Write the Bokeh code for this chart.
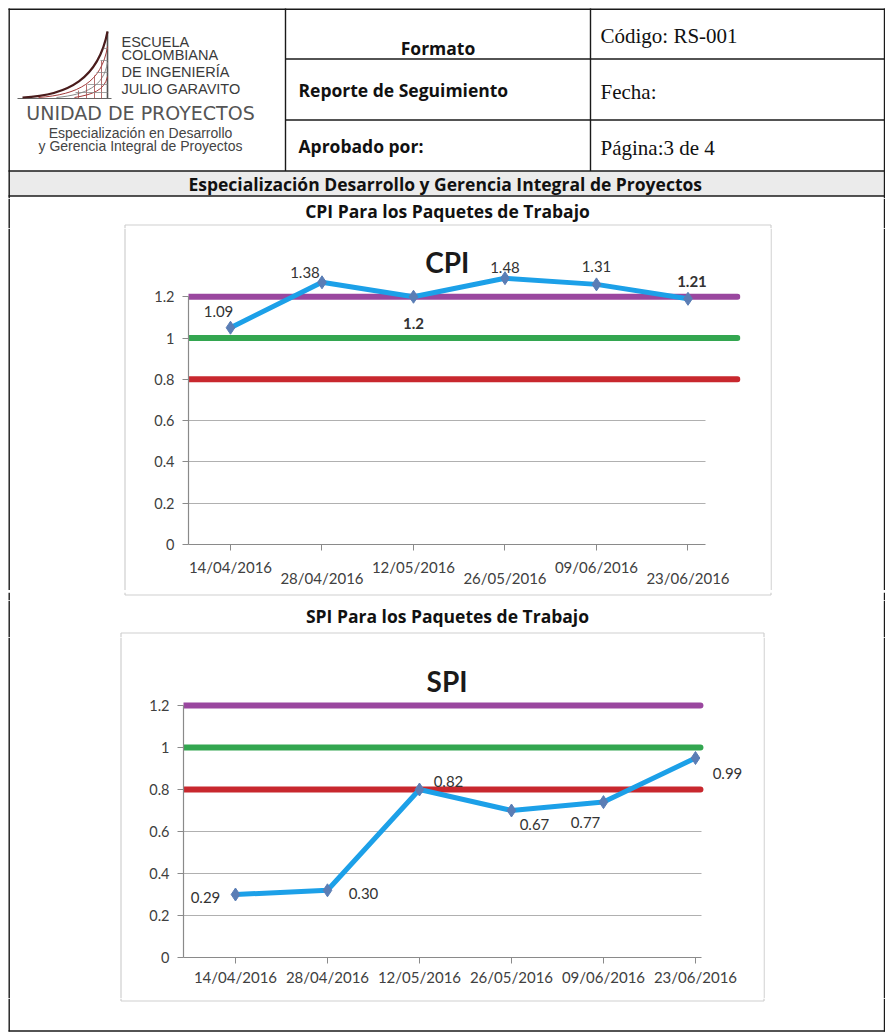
from bokeh.plotting import figure
from bokeh.models import (Range1d, FixedTicker, NumeralTickFormatter, ColumnDataSource,
                          LinearAxis, Grid, Plot)
from bokeh.layouts import column, row
from bokeh.core.properties import value
from bokeh.embed import file_html
from bokeh.resources import INLINE

# ---------------- data ----------------
dates = ["14/04/2016", "28/04/2016", "12/05/2016", "26/05/2016", "09/06/2016", "23/06/2016"]
cpi_values = [1.05, 1.27, 1.20, 1.29, 1.26, 1.19]
cpi_labels = ["1.09", "1.38", "1.2", "1.48", "1.31", "1.21"]
spi_values = [0.30, 0.32, 0.80, 0.70, 0.74, 0.95]
spi_labels = ["0.29", "0.30", "0.82", "0.67", "0.77", "0.99"]
thresholds = [1.2, 1.0, 0.8]
y_ticks = [0, 0.2, 0.4, 0.6, 0.8, 1.0, 1.2]

# ---------------- styles ----------------
threshold_colors = ["#9a479f", "#33a650", "#c8282e"]
cpi_label_dx = [-12, -17, 0, 0, 0, 4]
cpi_label_dy = [-16, -10, 27, -11, -18, -17]
cpi_label_style = ["normal", "normal", "bold", "normal", "normal", "bold"]
spi_label_dx = [-30, 36, 29, 23, -18, 32]
spi_label_dy = [3, 3, -8, 14, 20, 15]
spi_label_style = ["normal"] * 6

W = 885
SANS_B = "Open Sans"
SERIF = "Liberation Serif"
CHART_FONT = "Lato"
LINE = "#1a1a1a"
BOX = "#cfcfcf"
LB = 8.7      # x of left document border
RB = 884.0    # x of right document border

NO_ALIGN = {"frame_align": False} if "frame_align" in Plot.properties() else {}


def deco(w, h):
    return figure(width=w, height=h, x_range=Range1d(0, w), y_range=Range1d(h, 0),
                  x_axis_type=None, y_axis_type=None, title=None,
                  output_backend="svg", toolbar_location=None,
                  min_border_left=0, min_border_right=0, min_border_top=0, min_border_bottom=0,
                  outline_line_color=None, background_fill_color="white",
                  border_fill_color="white", **NO_ALIGN)


def rules(f, segs, color=LINE, width=1.4):
    """Draw horizontal / vertical rules of the page frame as thin filled boxes."""
    lefts, rights, tops, bottoms = [], [], [], []
    hw = width / 2.0
    for x0, y0, x1, y1 in segs:
        if x0 == x1:
            lefts.append(x0 - hw); rights.append(x0 + hw)
            tops.append(min(y0, y1)); bottoms.append(max(y0, y1))
        else:
            lefts.append(min(x0, x1)); rights.append(max(x0, x1))
            tops.append(y0 - hw); bottoms.append(y0 + hw)
    f.quad(left=lefts, right=rights, top=tops, bottom=bottoms,
           fill_color=color, line_color=None)


def txt(f, x, y, s, size, font=SANS_B, style="normal", align="left", color="#111111"):
    f.text(x=[x], y=[y], text=[s], text_font=value(font), text_font_size=f"{size}px",
           text_font_style=style, text_align=align, text_baseline="middle", text_color=color)


# ---------------- header ----------------
hdr = deco(W, 198)
hdr.quad(left=[8], right=[884.5], top=[170.5], bottom=[195.5], fill_color="#ebebeb",
         line_color=None)
rules(hdr, [(8, 8.7, 884.7, 8.7), (285, 58.5, 884.7, 58.5), (285, 119.5, 884.7, 119.5),
            (8, 170.5, 884.7, 170.5), (8, 195.5, 884.7, 195.5),
            (LB, 8, LB, 198), (RB, 8, RB, 198), (285, 8, 285, 170.5), (590, 8, 590, 170.5)])

# logo mark
hdr.segment(x0=[107], y0=[31], x1=[107], y1=[98], line_color="#555555", line_width=1.6)
hdr.segment(x0=[17], y0=[98], x1=[111], y1=[98], line_color="#666666", line_width=1.2)
hdr.bezier(x0=[22, 38, 56, 74], y0=[97, 97, 97, 97], x1=[107, 107, 107, 107],
           y1=[31, 46, 62, 76],
           cx0=[68, 78, 86, 92], cy0=[95, 94, 94, 94], cx1=[98, 101, 103, 104],
           cy1=[78, 82, 86, 90],
           line_color=["#4a1c1c", "#a33a3a", "#8a8a8a", "#a33a3a"], line_width=[2.2, 1, 1, 1])
hdr.segment(x0=[78, 86, 94, 101], y0=[98, 98, 98, 98], x1=[78, 86, 94, 101],
            y1=[90, 84, 75, 60], line_color="#a34a4a", line_width=0.8)
hdr.segment(x0=[103, 100, 96, 87, 75], y0=[48, 60, 72, 84, 92], x1=[107] * 5,
            y1=[48, 60, 72, 84, 92], line_color="#8a8a8a", line_width=0.8)

for s, yy in zip(["ESCUELA", "COLOMBIANA", "DE INGENIERÍA", "JULIO GARAVITO"], [41, 54, 71, 88]):
    txt(hdr, 121, yy, s, 14.5, font="Liberation Sans", color="#3a3a3a")
txt(hdr, 140, 112, "UNIDAD DE PROYECTOS", 19, font="DejaVu Sans", align="center",
    color="#555555")
txt(hdr, 140, 132, "Especialización en Desarrollo", 14, font="Liberation Sans",
    align="center", color="#444444")
txt(hdr, 140, 145, "y Gerencia Integral de Proyectos", 14, font="Liberation Sans",
    align="center", color="#444444")

txt(hdr, 437.5, 47, "Formato", 17.5, style="bold", align="center")
txt(hdr, 600, 35, "Código: RS-001", 21, font=SERIF)
txt(hdr, 298, 89, "Reporte de Seguimiento", 17.5, style="bold")
txt(hdr, 600, 91, "Fecha:", 21, font=SERIF)
txt(hdr, 298, 145, "Aprobado por:", 17.5, style="bold")
txt(hdr, 600, 147, "Página:3  de 4", 21, font=SERIF)
txt(hdr, 447, 183, "Especialización  Desarrollo y Gerencia Integral de Proyectos", 17.5,
    style="bold", align="center")


# ---------------- charts ----------------
def chart(w, h, xr, y_end, mb, values, labels, dx, dy, fstyle, title, title_xy,
          axis_end, line_end, stagger):
    xs = list(range(len(dates)))
    p = figure(width=w, height=h, x_range=Range1d(*xr), y_range=Range1d(0, y_end),
               x_axis_type=None, y_axis_type=None, title=None, output_backend="svg",
               toolbar_location=None, min_border_left=mb[0], min_border_right=mb[1],
               min_border_top=mb[2], min_border_bottom=mb[3], outline_line_color=None,
               background_fill_color="white", border_fill_color="white", **NO_ALIGN)
    yticker = FixedTicker(ticks=y_ticks)
    yaxis = LinearAxis(ticker=yticker, formatter=NumeralTickFormatter(format="0.[0]"),
                       bounds=(0, y_ticks[-1]))
    overrides = {i: ("\n" + d if (stagger and i % 2) else d) for i, d in enumerate(dates)}
    xaxis = LinearAxis(ticker=FixedTicker(ticks=xs), bounds=(xr[0], axis_end),
                       major_label_overrides=overrides)
    for ax in (yaxis, xaxis):
        ax.axis_line_color = "#8a8a8a"
        ax.axis_line_width = 1.2
        ax.major_tick_line_color = "#8a8a8a"
        ax.major_tick_in = 0
        ax.major_tick_out = 6
        ax.minor_tick_line_color = None
        ax.major_label_text_font = CHART_FONT
        ax.major_label_text_color = "#404040"
    yaxis.major_label_text_font_size = "14.5px"
    yaxis.major_label_standoff = 8
    xaxis.major_label_text_font_size = "15px"
    if stagger:
        xaxis.major_label_standoff = 7
        xaxis.major_label_text_line_height = 0.65
    else:
        xaxis.major_label_standoff = 4
    p.add_layout(yaxis, "left")
    p.add_layout(xaxis, "below")
    grid = Grid(dimension=1, ticker=yticker, grid_line_color="#b0b0b0", grid_line_width=1)
    if "cross_bounds" in Grid.properties():
        grid.cross_bounds = (xr[0], axis_end)
    p.add_layout(grid)

    n = len(thresholds)
    p.segment(x0=[xr[0]] * n, x1=[line_end] * n, y0=thresholds, y1=thresholds,
              line_color=threshold_colors, line_width=6, line_cap="round")
    src = ColumnDataSource(dict(x=xs, y=values, label=labels, dx=dx, dy=dy, fs=fstyle))
    p.line("x", "y", source=src, line_color="#1ca0e8", line_width=5, line_join="round")
    p.scatter("x", "y", source=src, marker="diamond", size=13,
              fill_color="#5a7db5", line_color="#5a7db5")
    p.text("x", "y", text="label", source=src, x_offset="dx", y_offset="dy",
           text_font_style="fs", text_font=value(CHART_FONT), text_font_size="15px",
           text_color="#333333", text_align="center", text_baseline="middle")
    p.text(x=[title_xy[0]], y=[title_xy[1]], text=[title], text_font=value(CHART_FONT),
           text_font_size="28px", text_font_style="bold", text_align="center",
           text_baseline="middle", text_color="#1a1a1a")
    return p


# CPI section: page y 198..600  (30 + 362 + 10); x: 138 | 632 | 115
cpi_top = deco(W, 30)
rules(cpi_top, [(LB, 0, LB, 30), (RB, 0, RB, 30)])
rules(cpi_top, [(124.5, 26.5, 770.5, 26.5), (124.5, 26.5, 124.5, 30), (770.5, 26.5, 770.5, 30)],
      color=BOX, width=1.2)
txt(cpi_top, 447, 12, "CPI Para los Paquetes de Trabajo", 17.5, style="bold", align="center")

cpi_L = deco(138, 362)
rules(cpi_L, [(LB, 0, LB, 362)])
rules(cpi_L, [(124.5, 0, 124.5, 362)], color=BOX, width=1.2)
cpi_R = deco(115, 362)
rules(cpi_R, [(RB - 770, 0, RB - 770, 362)])
rules(cpi_R, [(0.6, 0, 0.6, 362)], color=BOX, width=1.2)
cpi_chart = chart(632, 362, (-0.459, 5.574), 1.458, (50, 30, 15, 42),
                  cpi_values, cpi_labels, cpi_label_dx, cpi_label_dy, cpi_label_style,
                  "CPI", (2.37, 1.367), 5.19, 5.54, True)
cpi_bot = deco(W, 10)
rules(cpi_bot, [(LB, 0, LB, 10), (RB, 0, RB, 10)])
rules(cpi_bot, [(124.5, 2.5, 770.5, 2.5), (124.5, 0, 124.5, 2.5), (770.5, 0, 770.5, 2.5)],
      color=BOX, width=1.2)

# SPI section: page y 600..1034  (37 + 361 + 36); x: 136 | 627 | 122
spi_top = deco(W, 37)
rules(spi_top, [(LB, 0, LB, 37), (RB, 0, RB, 37)])
rules(spi_top, [(120.5, 32.5, 763.5, 32.5), (120.5, 32.5, 120.5, 37), (763.5, 32.5, 763.5, 37)],
      color=BOX, width=1.2)
txt(spi_top, 447, 15, "SPI Para los Paquetes de Trabajo", 17.5, style="bold", align="center")

spi_L = deco(136, 361)
rules(spi_L, [(LB, 0, LB, 361)])
rules(spi_L, [(120.5, 0, 120.5, 361)], color=BOX, width=1.2)
spi_R = deco(122, 361)
rules(spi_R, [(RB - 763, 0, RB - 763, 361)])
rules(spi_R, [(0.6, 0, 0.6, 361)], color=BOX, width=1.2)
spi_chart = chart(627, 361, (-0.565, 5.598), 1.462, (47, 13, 13, 41),
                  spi_values, spi_labels, spi_label_dx, spi_label_dy, spi_label_style,
                  "SPI", (2.30, 1.319), 5.065, 5.054, False)
spi_bot = deco(W, 36)
rules(spi_bot, [(LB, 0, LB, 33), (RB, 0, RB, 33), (8, 32.5, 884.7, 32.5)])
rules(spi_bot, [(120.5, 2.5, 763.5, 2.5), (120.5, 0, 120.5, 2.5), (763.5, 0, 763.5, 2.5)],
      color=BOX, width=1.2)

page = column(hdr, cpi_top, row(cpi_L, cpi_chart, cpi_R), cpi_bot,
              spi_top, row(spi_L, spi_chart, spi_R), spi_bot)

open("out.html", "w").write(file_html(page, INLINE, "Reporte de Seguimiento"))
